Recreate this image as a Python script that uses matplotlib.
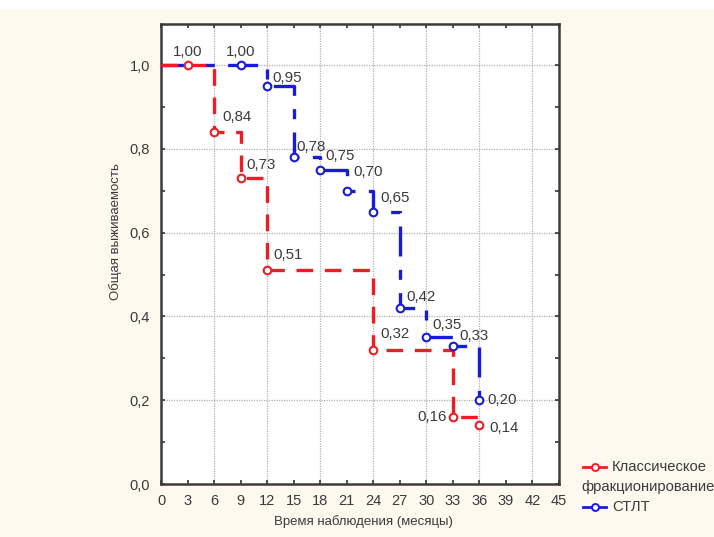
import matplotlib
matplotlib.use("Agg")
import matplotlib.pyplot as plt
from matplotlib.lines import Line2D
from matplotlib.patches import Rectangle
from matplotlib.ticker import FuncFormatter, MultipleLocator

plt.rcParams['font.family'] = ['Liberation Sans', 'DejaVu Sans']

# ---- data ----
series_names = ["Классическое фракционирование", "СТЛТ"]

red_x = [0, 6, 9, 12, 24, 33, 36]
red_y = [1.00, 0.84, 0.73, 0.51, 0.32, 0.16, 0.14]
red_mark_x = [3, 6, 9, 12, 24, 33, 36]
red_mark_y = [1.00, 0.84, 0.73, 0.51, 0.32, 0.16, 0.14]

blue_x = [0, 12, 15, 18, 21, 24, 27, 30, 33, 36]
blue_y = [1.00, 0.95, 0.78, 0.75, 0.70, 0.65, 0.42, 0.35, 0.33, 0.20]
blue_mark_x = [9, 12, 15, 18, 21, 24, 27, 30, 33, 36]
blue_mark_y = [1.00, 0.95, 0.78, 0.75, 0.70, 0.65, 0.42, 0.35, 0.33, 0.20]

x_label = "Время наблюдения (месяцы)"
y_label = "Общая выживаемость"

# label placement (pixel offsets, alignment) -- styling only
red_lab_style = [((0, 13), 'center'), ((8, 15), 'left'), ((6, 13), 'left'),
                 ((6, 15), 'left'), ((7, 16), 'left'), ((-6, 0), 'right'),
                 ((10, -3), 'left')]
blue_lab_style = [((0, 13), 'center'), ((5, 8), 'left'), ((3, 10), 'left'),
                  ((5, 14), 'left'), ((7, 19), 'left'), ((7, 14), 'left'),
                  ((7, 11), 'left'), ((6, 12), 'left'), ((7, 10), 'left'),
                  ((8, 0), 'left')]

RED = '#ee1c24'
BLUE = '#1a1adb'
TXT = '#3a3a3a'
BG = '#fdf9ee'

fig = plt.figure(figsize=(7.14, 5.37), dpi=100, facecolor=BG)
fig.patches.append(Rectangle((0, 1 - 9 / 537), 1, 9 / 537, transform=fig.transFigure,
                             facecolor='white', edgecolor='none', zorder=0))
ax = fig.add_axes([161 / 714, 1 - 484 / 537, (559 - 161) / 714, (484 - 24) / 537])
ax.set_facecolor('white')

ax.set_xlim(0, 45)
ax.set_ylim(0, 1.098)


def step_pts(xs, ys):
    px, py = [], []
    for i in range(len(xs)):
        if i > 0:
            px.append(xs[i]); py.append(ys[i - 1])
        px.append(xs[i]); py.append(ys[i])
    return px, py


rpx, rpy = step_pts(red_x, red_y)
bpx, bpy = step_pts(blue_x, blue_y)

ax.plot(bpx, bpy, color=BLUE, lw=2.4, dashes=(9, 4, 3, 4), zorder=3,
        dash_capstyle='butt')
ax.plot(rpx, rpy, color=RED, lw=2.4, dashes=(5, 3.5), zorder=4,
        dash_capstyle='butt')
ax.plot(blue_mark_x, blue_mark_y, 'o', ms=5.5, mfc='white', mec=BLUE, mew=1.5,
        ls='none', zorder=5)
ax.plot(red_mark_x, red_mark_y, 'o', ms=5.5, mfc='white', mec=RED, mew=1.5,
        ls='none', zorder=5)


def fmt2(v):
    return f"{v:.2f}".replace('.', ',')


for (x, y), ((dx, dy), ha) in zip(zip(red_mark_x, red_mark_y), red_lab_style):
    ax.annotate(fmt2(y), (x, y), xytext=(dx * 0.72, dy * 0.72), textcoords='offset points',
                ha=ha, va='center', fontsize=10.8, color=TXT, zorder=6)
for (x, y), ((dx, dy), ha) in zip(zip(blue_mark_x, blue_mark_y), blue_lab_style):
    ax.annotate(fmt2(y), (x, y), xytext=(dx * 0.72, dy * 0.72), textcoords='offset points',
                ha=ha, va='center', fontsize=10.8, color=TXT, zorder=6)

# ticks & grid
ax.xaxis.set_major_locator(MultipleLocator(3))
ax.yaxis.set_major_locator(MultipleLocator(0.2))
ax.yaxis.set_minor_locator(MultipleLocator(0.1))
ax.yaxis.set_major_formatter(FuncFormatter(lambda v, p: f"{v:.1f}".replace('.', ',')))
ax.tick_params(axis='both', which='both', direction='in', colors='#333333',
               labelcolor=TXT, labelsize=10.5, length=3, width=1.2,
               top=True, right=True)
ax.tick_params(axis='x', pad=7)
ax.tick_params(axis='y', pad=8)
for gx in range(6, 45, 6):
    ax.axvline(gx, color='#b0b0b0', lw=0.9, ls=(0, (1, 1)), zorder=1)
for gy in [0.2, 0.4, 0.6, 0.8, 1.0]:
    ax.axhline(gy, color='#b0b0b0', lw=0.9, ls=(0, (1, 1)), zorder=1)
for s in ax.spines.values():
    s.set_color('#3c3c3c')
    s.set_linewidth(1.8)

fig.text(363 / 714, 1 - 522 / 537, x_label, ha='center', va='center', fontsize=9.5, color=TXT)
fig.text(116 / 714, 1 - 232 / 537, y_label, ha='center', va='center', rotation=90,
         fontsize=9.5, color=TXT)


# legend (manual, outside right bottom)
def leg_handle(y_px, color):
    y = 1 - y_px / 537
    fig.lines.append(Line2D([583 / 714, 606 / 714], [y, y], transform=fig.transFigure,
                            color=color, lw=2))
    fig.lines.append(Line2D([594.5 / 714], [y], transform=fig.transFigure, marker='o',
                            ms=5, mfc='white', mec=color, mew=1.4, ls='none'))


leg_handle(467, RED)
first, second = series_names[0].split(' ', 1)
fig.text(612 / 714, 1 - 467 / 537, first, ha='left', va='center', fontsize=10.6, color=TXT)
fig.text(581 / 714, 1 - 487 / 537, second, ha='left', va='center', fontsize=10.6, color=TXT)
leg_handle(507, BLUE)
fig.text(612 / 714, 1 - 507 / 537, series_names[1], ha='left', va='center', fontsize=10.6, color=TXT)

fig.savefig('out.png', dpi=100, facecolor=BG)
